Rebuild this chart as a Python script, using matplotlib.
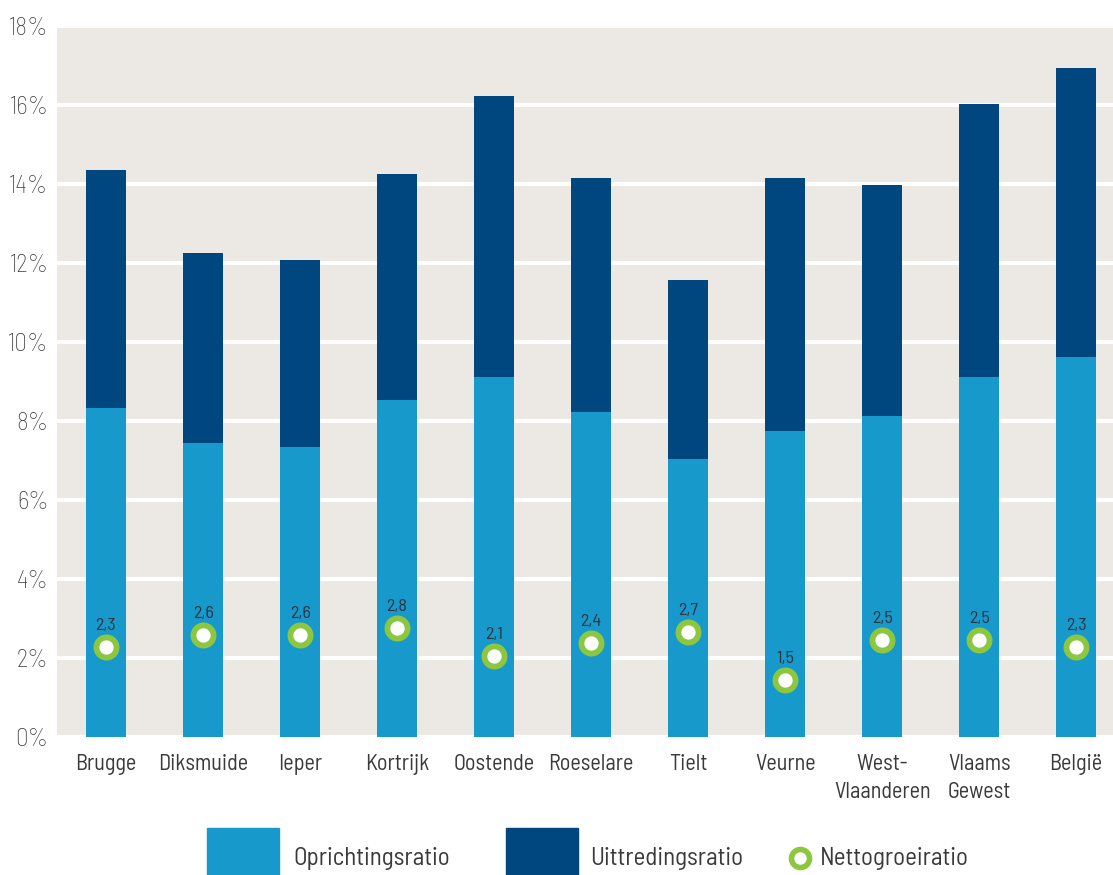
import numpy as np
import matplotlib
matplotlib.use("Agg")
import matplotlib.pyplot as plt
from matplotlib.patches import Rectangle
from matplotlib.lines import Line2D

# data
regions = ["Brugge", "Diksmuide", "Ieper", "Kortrijk", "Oostende", "Roeselare",
           "Tielt", "Veurne", "West-\nVlaanderen", "Vlaams\nGewest", "België"]
oprichting = [8.33, 7.44, 7.34, 8.53, 9.11, 8.23, 7.04, 7.75, 8.13, 9.11, 9.62]
uittreding = [6.02, 4.81, 4.74, 5.72, 7.12, 5.92, 4.53, 6.40, 5.84, 6.92, 7.32]
netto = [2.28, 2.58, 2.58, 2.75, 2.05, 2.37, 2.65, 1.45, 2.45, 2.45, 2.28]
netto_labels = ["2,3", "2,6", "2,6", "2,8", "2,1", "2,4", "2,7", "1,5", "2,5", "2,5", "2,3"]
yticks = [0, 2, 4, 6, 8, 10, 12, 14, 16, 18]

LIGHT = "#1799cb"
DARK = "#00467f"
GREEN = "#8dc63f"
BG = "#ece9e4"
TXT = "#3a3a3a"

plt.rcParams["font.family"] = ["Barlow Semi Condensed", "DejaVu Sans"]
plt.rcParams["font.weight"] = "normal"

fig = plt.figure(figsize=(11.13, 8.75), dpi=100)
ax = fig.add_axes([57 / 1113, 1 - 737 / 875, 1 - 57 / 1113, (737 - 26) / 875])
ax.set_facecolor(BG)

x = np.arange(len(regions))
ax.bar(x, oprichting, width=0.41, color=LIGHT, zorder=2)
ax.bar(x, uittreding, width=0.41, bottom=oprichting, color=DARK, zorder=2)
ax.plot(x, netto, linestyle="none", marker="o", markersize=14.5,
        markerfacecolor="white", markeredgecolor=GREEN, markeredgewidth=4.2, zorder=3)
for xi, v, lab in zip(x, netto, netto_labels):
    ax.annotate(lab, (xi, v), xytext=(0, 10), textcoords="offset points",
                ha="center", va="bottom", fontsize=13, color="#2a3440", zorder=4)

ax.set_xlim(-0.505, 10.38)
ax.set_ylim(0, 18)
ax.set_yticks(yticks)
ax.set_yticklabels([f"{t}%" for t in yticks], fontsize=18, color=TXT, fontweight="light")
ax.set_xticks(x)
ax.set_xticklabels(regions, fontsize=16, color=TXT, linespacing=1.45)
ax.tick_params(length=0, pad=6)
ax.tick_params(axis="x", pad=12)
ax.grid(axis="y", color="white", linewidth=3, zorder=1)
ax.set_axisbelow(True)
for s in ax.spines.values():
    s.set_visible(False)

# legend drawn at figure level
W, H = 1113, 875
def frect(x0, y0, w, h, c):
    fig.patches.append(Rectangle((x0 / W, 1 - (y0 + h) / H), w / W, h / H,
                                 transform=fig.transFigure, color=c))
frect(207, 828, 72, 47, LIGHT)
frect(506, 828, 72, 47, DARK)
fig.text(293 / W, 1 - 858 / H, "Oprichtingsratio", fontsize=18, color=TXT, va="center")
fig.text(590 / W, 1 - 858 / H, "Uittredingsratio", fontsize=18, color=TXT, va="center")
fig.lines.append(Line2D([800 / W], [1 - 858 / H], transform=fig.transFigure,
                        marker="o", markersize=13, markerfacecolor="white",
                        markeredgecolor=GREEN, markeredgewidth=4))
fig.text(820 / W, 1 - 858 / H, "Nettogroeiratio", fontsize=18, color=TXT, va="center")

fig.savefig("out.png", dpi=100, facecolor="white")
